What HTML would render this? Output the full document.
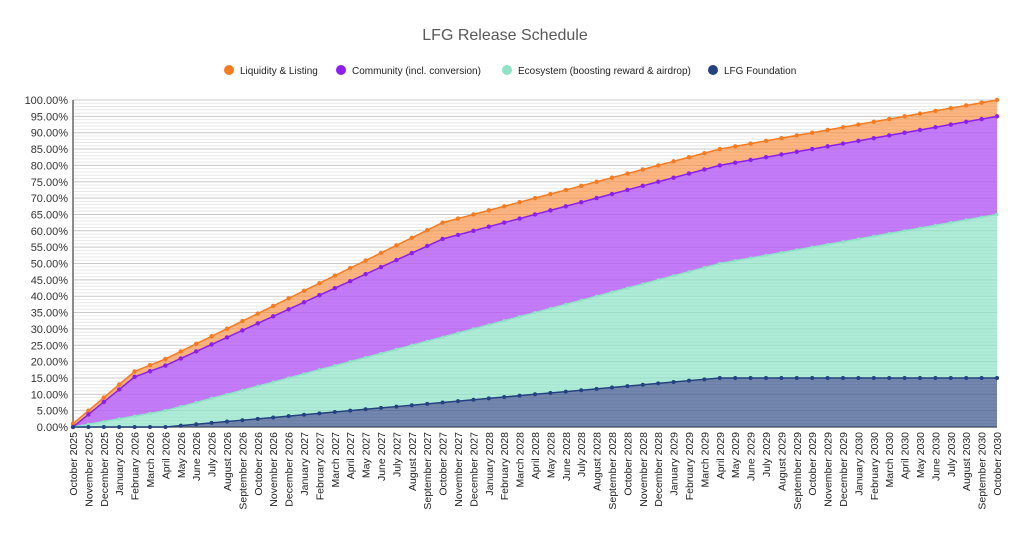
<!DOCTYPE html>
<html><head><meta charset="utf-8"><style>
body{margin:0;background:#fff;}
svg{display:block;font-family:"Liberation Sans",Arial,sans-serif;}
</style></head><body>
<svg id="s" width="1024" height="537" viewBox="0 0 1024 537">
<text x="505" y="40" text-anchor="middle" font-size="16" fill="#595959">LFG Release Schedule</text>
<g font-size="10" fill="#222">
<circle cx="229" cy="70" r="5" fill="#f77b21"/><text x="240" y="74">Liquidity &amp; Listing</text>
<circle cx="341" cy="70" r="5" fill="#8b1ff0"/><text x="352" y="74">Community (incl. conversion)</text>
<circle cx="507" cy="70" r="5" fill="#8ee3c6"/><text x="518" y="74">Ecosystem (boosting reward &amp; airdrop)</text>
<circle cx="713" cy="70" r="5" fill="#23427f"/><text x="724" y="74">LFG Foundation</text>
</g>
<g id="grid"></g>
<g id="areas"></g>
<g id="yl" font-size="11" fill="#333" text-anchor="end">
<text>100.00%</text><text>95.00%</text><text>90.00%</text><text>85.00%</text><text>80.00%</text><text>75.00%</text><text>70.00%</text><text>65.00%</text><text>60.00%</text><text>55.00%</text><text>50.00%</text><text>45.00%</text><text>40.00%</text><text>35.00%</text><text>30.00%</text><text>25.00%</text><text>20.00%</text><text>15.00%</text><text>10.00%</text><text>5.00%</text><text>0.00%</text>
</g>
<g id="xl" font-size="10.5" fill="#222" text-anchor="end">
<text>October 2025</text><text>November 2025</text><text>December 2025</text><text>January 2026</text><text>February 2026</text><text>March 2026</text><text>April 2026</text><text>May 2026</text><text>June 2026</text><text>July 2026</text><text>August 2026</text><text>September 2026</text><text>October 2026</text><text>November 2026</text><text>December 2026</text><text>January 2027</text><text>February 2027</text><text>March 2027</text><text>April 2027</text><text>May 2027</text><text>June 2027</text><text>July 2027</text><text>August 2027</text><text>September 2027</text><text>October 2027</text><text>November 2027</text><text>December 2027</text><text>January 2028</text><text>February 2028</text><text>March 2028</text><text>April 2028</text><text>May 2028</text><text>June 2028</text><text>July 2028</text><text>August 2028</text><text>September 2028</text><text>October 2028</text><text>November 2028</text><text>December 2028</text><text>January 2029</text><text>February 2029</text><text>March 2029</text><text>April 2029</text><text>May 2029</text><text>June 2029</text><text>July 2029</text><text>August 2029</text><text>September 2029</text><text>October 2029</text><text>November 2029</text><text>December 2029</text><text>January 2030</text><text>February 2030</text><text>March 2030</text><text>April 2030</text><text>May 2030</text><text>June 2030</text><text>July 2030</text><text>August 2030</text><text>September 2030</text><text>October 2030</text>
</g>
</svg>
<script>
var NS="http://www.w3.org/2000/svg",X0=73,X1=997,Y0=427,Y100=100,N=60;
function X(i){return X0+(X1-X0)*i/N}
function Y(v){return Y0-(Y0-Y100)*v/100}
function el(t,a,p){var e=document.createElementNS(NS,t);for(var k in a)e.setAttribute(k,a[k]);p.appendChild(e);return e}
var g=document.getElementById('grid');
for(var v=0;v<=100;v++){el('line',{x1:X0,x2:X1,y1:Y(v),y2:Y(v),stroke:v%5==0?'#c8c8c8':'#e8e8e8','stroke-width':1},g)}
el('line',{x1:X0,x2:X0,y1:Y100,y2:Y0,stroke:'#666','stroke-width':1.5},g);
el('line',{x1:X0,x2:X1,y1:Y0,y2:Y0,stroke:'#666','stroke-width':1.5},g);
var F=[],E=[],C=[],L=[];
for(var i=0;i<=N;i++){
 var f=i<=6?0:Math.min(15,(i-6)*15/36);
 var e=i*50/60;
 var c=i<=4?i*3:Math.min(30,12+(i-4)*0.9);
 var l=i<=24?1+i*4/24:5;
 F.push(f);E.push(f+e);C.push(f+e+c);L.push(f+e+c+l);}
var a=document.getElementById('areas');
function area(top,bot,fill,line,r){
 var p=[];for(var i=0;i<=N;i++)p.push(X(i)+','+Y(top[i]));
 for(var i=N;i>=0;i--)p.push(X(i)+','+Y(bot?bot[i]:0));
 el('polygon',{points:p.join(' '),fill:fill},a);
 var q=[];for(var i=0;i<=N;i++)q.push(X(i)+','+Y(top[i]));
 el('polyline',{points:q.join(' '),fill:'none',stroke:line,'stroke-width':1.5},a);
 for(var i=0;i<=N;i++)el('circle',{cx:X(i),cy:Y(top[i]),r:r,fill:line},a);
}
area(L,C,'rgba(250,140,60,0.65)','#f77b21',2.2);
area(C,E,'rgba(180,90,245,0.8)','#8b1ff0',2.2);
area(E,F,'rgba(140,228,200,0.7)','#8ee3c6',1.6);
area(F,null,'rgba(40,70,130,0.65)','#23427f',2);
var yl=document.getElementById('yl').children;
for(var k=0;k<yl.length;k++){yl[k].setAttribute('x',68);yl[k].setAttribute('y',Y(100-5*k)+4);}
var xl=document.getElementById('xl').children;
for(var k=0;k<xl.length;k++){var x=X(k)+4;xl[k].setAttribute('transform','translate('+x+',432) rotate(-90)');}
</script>
</body></html>
